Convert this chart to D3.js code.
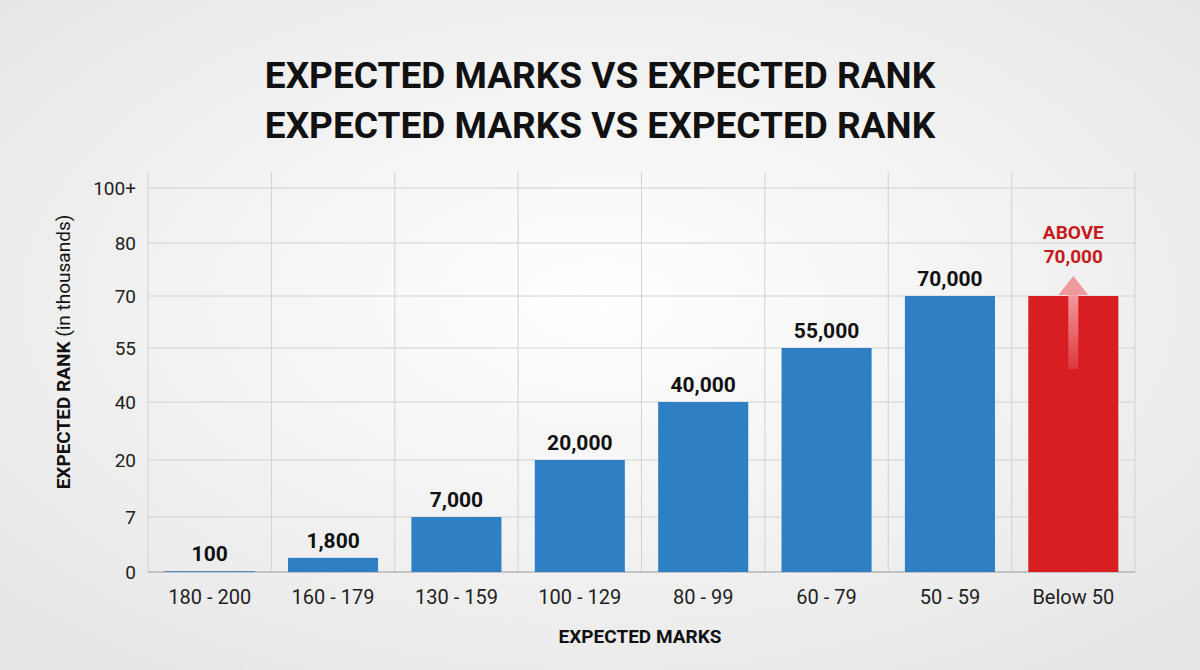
<!DOCTYPE html>
<html><head><meta charset="utf-8">
<script src="https://cdn.jsdelivr.net/npm/d3@7"></script>
<style>body{margin:0;}svg{display:block;font-family:Roboto,"Noto Sans",sans-serif;}</style>
</head><body><svg id="c" width="1200" height="670"></svg>
<script>
const categories = ["180 - 200","160 - 179","130 - 159","100 - 129","80 - 99","60 - 79","50 - 59","Below 50"];
const values = [0.1, 1.8, 7, 20, 40, 55, 70, 70];
const valueLabels = ["100","1,800","7,000","20,000","40,000","55,000","70,000",""];
const tickValues = [0, 7, 20, 40, 55, 70, 80, 100];
const tickLabels = ["0","7","20","40","55","70","80","100+"];
const title = "EXPECTED MARKS VS EXPECTED RANK";

const svg = d3.select("#c");
const defs = svg.append("defs");
const rg = defs.append("radialGradient").attr("id","bg").attr("cx","50%").attr("cy","45%").attr("r","75%");
rg.append("stop").attr("offset","0%").attr("stop-color","#ffffff");
rg.append("stop").attr("offset","100%").attr("stop-color","#e4e4e4");
svg.append("rect").attr("width",1200).attr("height",670).attr("fill","url(#bg)");
const ag = defs.append("linearGradient").attr("id","arr").attr("x1",0).attr("y1",1).attr("x2",0).attr("y2",0);
ag.append("stop").attr("offset","0%").attr("stop-color","#f4a0a4").attr("stop-opacity",0.2);
ag.append("stop").attr("offset","100%").attr("stop-color","#f4a0a4").attr("stop-opacity",1);

svg.append("text").attr("x",600).attr("y",88).attr("text-anchor","middle").attr("font-size",37).attr("font-weight",700).attr("fill","#111").text(title);
svg.append("text").attr("x",600).attr("y",138).attr("text-anchor","middle").attr("font-size",37).attr("font-weight",700).attr("fill","#111").text(title);

const pLeft=148, pRight=1135, pTop=172, pBottom=572;
const x = d3.scaleBand().domain(categories).range([pLeft,pRight]).paddingInner(0.27).paddingOuter(0.135);
const y = d3.scaleLinear().domain(tickValues).range([572,517,460,402,348,296,243,188]);

const grid = svg.append("g").attr("stroke","#d2d2d2").attr("stroke-width",1);
tickValues.slice(1).forEach(t=>grid.append("line").attr("x1",pLeft).attr("x2",pRight).attr("y1",y(t)).attr("y2",y(t)));
for(let i=0;i<=categories.length;i++){
  const gx = pLeft + i*(pRight-pLeft)/categories.length;
  grid.append("line").attr("x1",gx).attr("x2",gx).attr("y1",pTop).attr("y2",pBottom);
}
svg.append("line").attr("x1",pLeft).attr("x2",pRight).attr("y1",pBottom).attr("y2",pBottom).attr("stroke","#999");

svg.selectAll(".bar").data(values).enter().append("rect")
  .attr("x",(d,i)=>x(categories[i])).attr("width",x.bandwidth())
  .attr("y",d=>y(d)).attr("height",d=>pBottom-y(d))
  .attr("fill",(d,i)=>i===values.length-1?"#d81e22":"#2e7fc4");

svg.selectAll(".vl").data(values).enter().append("text")
  .attr("x",(d,i)=>x(categories[i])+x.bandwidth()/2).attr("y",d=>y(d)-10)
  .attr("text-anchor","middle").attr("font-size",21).attr("font-weight",700).attr("fill","#111")
  .text((d,i)=>valueLabels[i]);

const lx = x(categories[7])+x.bandwidth()/2;
svg.append("rect").attr("x",lx-5).attr("y",y(70)-7).attr("width",10).attr("height",80).attr("fill","url(#arr)");
svg.append("path").attr("d",`M${lx-15},${y(70)-1}L${lx},${y(70)-20}L${lx+15},${y(70)-1}Z`).attr("fill","#f0999d");
svg.append("text").attr("x",lx).attr("y",239).attr("text-anchor","middle").attr("font-size",19).attr("font-weight",700).attr("fill","#c8191e").text("ABOVE");
svg.append("text").attr("x",lx).attr("y",263).attr("text-anchor","middle").attr("font-size",19).attr("font-weight",700).attr("fill","#c8191e").text("70,000");

svg.selectAll(".yt").data(tickValues).enter().append("text")
  .attr("x",136).attr("y",d=>y(d)+7).attr("text-anchor","end").attr("font-size",19).attr("fill","#222")
  .text((d,i)=>tickLabels[i]);
svg.selectAll(".xt").data(categories).enter().append("text")
  .attr("x",d=>x(d)+x.bandwidth()/2).attr("y",604).attr("text-anchor","middle").attr("font-size",20).attr("fill","#222").text(d=>d);

svg.append("text").attr("x",640).attr("y",643).attr("text-anchor","middle").attr("font-size",19).attr("font-weight",700).attr("fill","#111").text("EXPECTED MARKS");
svg.append("text").attr("transform","translate(70,352) rotate(-90)").attr("text-anchor","middle").attr("font-size",19).attr("font-weight",700).attr("fill","#111")
  .text("EXPECTED RANK ").append("tspan").attr("font-weight",400).text("(in thousands)");
</script></body></html>
